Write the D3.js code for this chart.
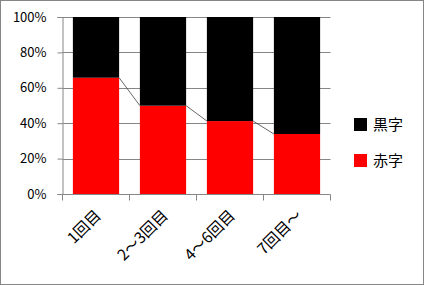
<!DOCTYPE html>
<html>
<head>
<meta charset="utf-8">
<script src="https://cdn.jsdelivr.net/npm/d3@7"></script>
<style>
  body { margin: 0; background: #fff; }
  svg { display: block; font-family: "Noto Sans CJK JP", sans-serif; }
</style>
</head>
<body>
<svg width="424" height="285"></svg>
<script>
var categories = ["1回目", "2～3回目", "4～6回目", "7回目～"];
var redValues = [0.657, 0.499, 0.412, 0.339];   // 赤字
var blackValues = redValues.map(function (v) { return 1 - v; }); // 黒字 (100% stacked)
var yTicks = [0, 0.2, 0.4, 0.6, 0.8, 1];
var legendItems = [{ name: "黒字", color: "#000" }, { name: "赤字", color: "#ff0000" }];

var svg = d3.select("svg");

// outer frame
svg.append("rect")
  .attr("x", 0.5).attr("y", 0.5)
  .attr("width", 423).attr("height", 284)
  .attr("fill", "#fff").attr("stroke", "#868686");

var plotLeft = 62.5, plotRight = 330.5, plotTop = 17, plotBottom = 194;

var x = d3.scaleBand()
  .domain(categories)
  .range([plotLeft, plotRight])
  .paddingInner(0.31)
  .paddingOuter(0.155);

var y = d3.scaleLinear().domain([0, 1]).range([plotBottom, plotTop]);

// gridlines
svg.append("g").selectAll("line")
  .data(yTicks.slice(1))
  .enter().append("line")
  .attr("x1", plotLeft).attr("x2", plotRight)
  .attr("y1", function (d) { return Math.round(y(d)) + 0.5; })
  .attr("y2", function (d) { return Math.round(y(d)) + 0.5; })
  .attr("stroke", "#868686");

// red bars
svg.append("g").selectAll("rect")
  .data(redValues)
  .enter().append("rect")
  .attr("x", function (d, i) { return x(categories[i]); })
  .attr("width", x.bandwidth())
  .attr("y", function (d) { return y(d); })
  .attr("height", function (d) { return y(0) - y(d); })
  .attr("fill", "#ff0000");

// black bars on top
svg.append("g").selectAll("rect")
  .data(blackValues)
  .enter().append("rect")
  .attr("x", function (d, i) { return x(categories[i]); })
  .attr("width", x.bandwidth())
  .attr("y", function (d, i) { return y(redValues[i] + d); })
  .attr("height", function (d, i) { return y(redValues[i]) - y(redValues[i] + d); })
  .attr("fill", "#000");

// series lines between red tops
svg.append("g").selectAll("line")
  .data(redValues.slice(0, -1))
  .enter().append("line")
  .attr("x1", function (d, i) { return x(categories[i]) + x.bandwidth(); })
  .attr("y1", function (d) { return y(d); })
  .attr("x2", function (d, i) { return x(categories[i + 1]); })
  .attr("y2", function (d, i) { return y(redValues[i + 1]); })
  .attr("stroke", "#404040").attr("stroke-width", 0.8);

// y axis
var yAxis = svg.append("g")
  .attr("transform", "translate(" + plotLeft + ",0)")
  .call(d3.axisLeft(y).tickValues(yTicks).tickSize(5).tickPadding(11)
    .tickFormat(d3.format(".0%")));
yAxis.select(".domain").attr("stroke", "#868686");
yAxis.selectAll(".tick line").attr("stroke", "#868686");
yAxis.selectAll("text").attr("font-size", 13).attr("fill", "#000")
  .attr("font-family", "'Noto Sans CJK JP', sans-serif");

// x axis
var xAxisG = svg.append("g").attr("transform", "translate(0," + (plotBottom + 0.5) + ")");
xAxisG.append("line")
  .attr("x1", plotLeft).attr("x2", plotRight)
  .attr("stroke", "#868686");
var step = x.step();
xAxisG.selectAll(".xt")
  .data(d3.range(categories.length + 1))
  .enter().append("line")
  .attr("x1", function (i) { return plotLeft + i * step; })
  .attr("x2", function (i) { return plotLeft + i * step; })
  .attr("y1", 0).attr("y2", 6)
  .attr("stroke", "#868686");
xAxisG.selectAll("text")
  .data(categories)
  .enter().append("text")
  .attr("transform", function (d) {
    return "translate(" + (x(d) + x.bandwidth() / 2 + 6) + ",22) rotate(-45)";
  })
  .attr("text-anchor", "end")
  .attr("font-size", 15.5)
  .attr("fill", "#000")
  .text(function (d) { return d; });

// legend
var legend = svg.append("g").selectAll("g")
  .data(legendItems)
  .enter().append("g")
  .attr("transform", function (d, i) { return "translate(354," + (118 + i * 36) + ")"; });
legend.append("rect")
  .attr("width", 13).attr("height", 13)
  .attr("fill", function (d) { return d.color; });
legend.append("text")
  .attr("x", 19).attr("y", 6.5).attr("dy", "0.36em")
  .attr("font-size", 15).attr("fill", "#000")
  .text(function (d) { return d.name; });
</script>
</body>
</html>
